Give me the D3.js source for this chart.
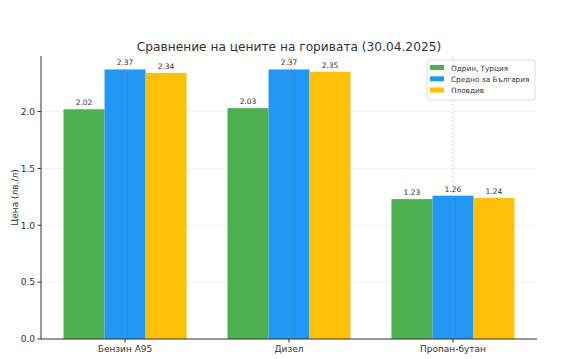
<!DOCTYPE html>
<html><head><meta charset="utf-8">
<script src="https://cdn.jsdelivr.net/npm/d3@7"></script>
<style>body{margin:0;background:#fff;font-family:"DejaVu Sans",sans-serif}</style>
</head><body><svg id="c" width="566" height="359"></svg>
<script>
const categories = ["Бензин А95", "Дизел", "Пропан-бутан"];
const seriesNames = ["Одрин, Турция", "Средно за България", "Пловдив"];
const edirne = [2.02, 2.03, 1.23];
const bulgaria = [2.37, 2.37, 1.26];
const plovdiv = [2.34, 2.35, 1.24];
const colors = ["#4caf50", "#2196f3", "#ffc107"];
const yTicks = [0.0, 0.5, 1.0, 1.5, 2.0];
const title = "Сравнение на цените на горивата (30.04.2025)";
const yLabel = "Цена (лв./л)";

const series = [edirne, bulgaria, plovdiv];
const svg = d3.select("#c");
const L = 41, R = 537, T = 56, B = 339;
const bw = 0.25;
const x = d3.scaleLinear().domain([-0.5125, 2.5125]).range([L, R]);
const y = d3.scaleLinear().domain([0, 2.4885]).range([B, T]);

const grid = (x1, x2, y1, y2, op) => svg.append("line").attr("x1", x1).attr("x2", x2).attr("y1", y1).attr("y2", y2)
  .attr("stroke", "#b0b0b0").attr("stroke-width", 0.8).attr("stroke-dasharray", "2.5,1.5").attr("opacity", op);

yTicks.forEach(t => grid(L, R, y(t), y(t), 0.35));
categories.forEach((c, i) => grid(x(i), x(i), T, B, 0.35));

series.forEach((s, k) => {
  s.forEach((v, i) => {
    const xc = i + (k - 1) * bw;
    svg.append("rect").attr("x", x(xc - bw / 2)).attr("width", x(xc + bw / 2) - x(xc - bw / 2))
      .attr("y", y(v)).attr("height", y(0) - y(v)).attr("fill", colors[k]);
    svg.append("text").attr("x", x(xc)).attr("y", y(v) - 4).attr("text-anchor", "middle")
      .attr("font-size", 7.5).attr("fill", "#333").text(v.toFixed(2));
  });
});
categories.forEach((c, i) => grid(x(i), x(i), T, B, 0.3));

svg.append("line").attr("x1", L).attr("x2", L).attr("y1", T).attr("y2", B).attr("stroke", "#333").attr("stroke-width", 1);
svg.append("line").attr("x1", L).attr("x2", R).attr("y1", B).attr("y2", B).attr("stroke", "#333").attr("stroke-width", 1);
yTicks.forEach(t => {
  svg.append("line").attr("x1", L - 3.5).attr("x2", L).attr("y1", y(t)).attr("y2", y(t)).attr("stroke", "#333");
  svg.append("text").attr("x", L - 6).attr("y", y(t) + 3.3).attr("text-anchor", "end").attr("font-size", 9).attr("fill", "#333").text(t.toFixed(1));
});
categories.forEach((c, i) => {
  svg.append("line").attr("x1", x(i)).attr("x2", x(i)).attr("y1", B).attr("y2", B + 3.5).attr("stroke", "#333");
  svg.append("text").attr("x", x(i)).attr("y", B + 13).attr("text-anchor", "middle").attr("font-size", 9).attr("fill", "#333").text(c);
});
svg.append("text").attr("transform", `translate(18,${(T + B) / 2}) rotate(-90)`).attr("text-anchor", "middle")
  .attr("font-size", 9).attr("fill", "#333").text(yLabel);
svg.append("text").attr("x", (L + R) / 2).attr("y", 51).attr("text-anchor", "middle").attr("font-size", 12.2).attr("fill", "#333").text(title);

const lg = svg.append("g").attr("transform", "translate(427,60)");
lg.append("rect").attr("width", 108).attr("height", 40).attr("rx", 2).attr("fill", "#fff").attr("fill-opacity", 0.8).attr("stroke", "#ddd");
seriesNames.forEach((n, k) => {
  lg.append("rect").attr("x", 3).attr("y", 5 + k * 11.3).attr("width", 14).attr("height", 5).attr("fill", colors[k]);
  lg.append("text").attr("x", 24).attr("y", 10.5 + k * 11.3).attr("font-size", 7.3).attr("fill", "#333").text(n);
});
</script></body></html>
